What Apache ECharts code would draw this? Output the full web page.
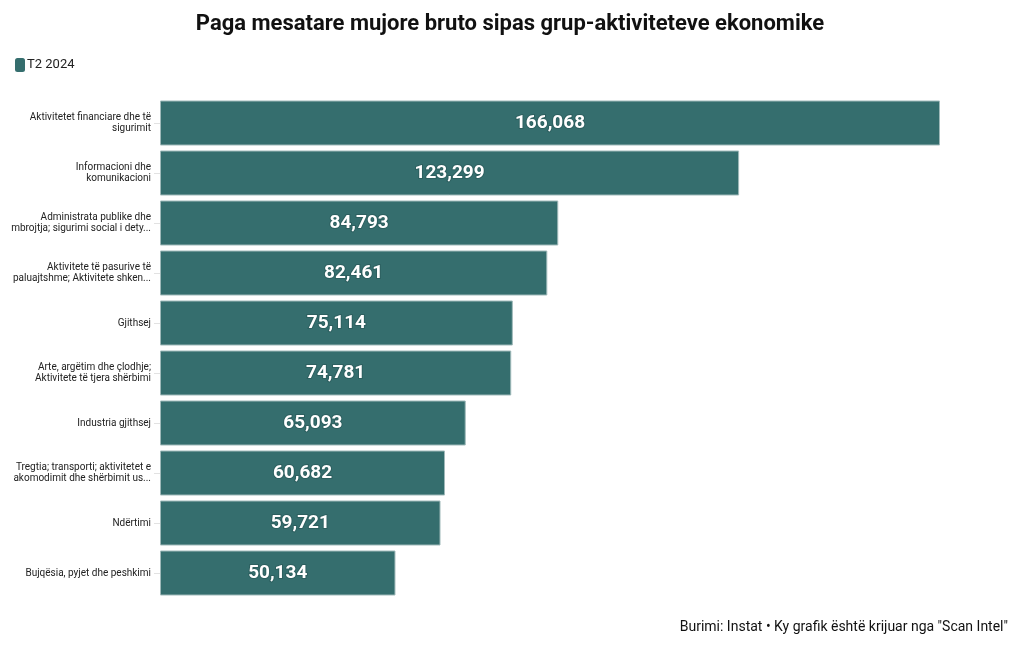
<!DOCTYPE html>
<html><head><meta charset="utf-8">
<script src="https://cdn.jsdelivr.net/npm/echarts@6/dist/echarts.min.js"></script>
<style>html,body{margin:0;padding:0;background:#fff}#c{width:1020px;height:650px}</style>
</head><body><div id="c"></div>
<script>
var categories = [
  "Aktivitetet financiare dhe të\nsigurimit",
  "Informacioni dhe\nkomunikacioni",
  "Administrata publike dhe\nmbrojtja; sigurimi social i dety...",
  "Aktivitete të pasurive të\npaluajtshme; Aktivitete shken...",
  "Gjithsej",
  "Arte, argëtim dhe çlodhje;\nAktivitete të tjera shërbimi",
  "Industria gjithsej",
  "Tregtia; transporti; aktivitetet e\nakomodimit dhe shërbimit us...",
  "Ndërtimi",
  "Bujqësia, pyjet dhe peshkimi"
];
var values = [166068, 123299, 84793, 82461, 75114, 74781, 65093, 60682, 59721, 50134];
var seriesName = "T2 2024";
var titleText = "Paga mesatare mujore bruto sipas grup-aktiviteteve ekonomike";
var sourceText = "Burimi: Instat • Ky grafik është krijuar nga \"Scan Intel\"";

var FONT = "'Roboto', sans-serif";
var chart = echarts.init(document.getElementById('c'));
chart.setOption({
  backgroundColor: '#fff',
  textStyle: { fontFamily: FONT },
  title: { text: titleText, left: 'center', top: 8,
    textStyle: { fontFamily: FONT, fontSize: 22, fontWeight: 'bold', color: '#111' } },
  legend: { left: 10, top: 53, itemWidth: 10, itemHeight: 14, itemGap: 4, icon: 'roundRect',
    itemStyle: { borderWidth: 0 },
    textStyle: { fontFamily: FONT, fontSize: 13, color: '#222', padding: [0,0,0,-3] } },
  grid: { left: 160, right: 80, top: 98, bottom: 52, containLabel: false },
  xAxis: { type: 'value', min: 0, max: 166068, show: false },
  yAxis: { type: 'category', data: categories, inverse: true,
    axisLine: { show: false },
    axisTick: { show: true, alignWithLabel: true, length: 6, lineStyle: { color: '#e2e2e2' } },
    axisLabel: { fontFamily: FONT, fontSize: 10, color: '#222', margin: 9, align: 'right', lineHeight: 11 } },
  graphic: [{ type: 'text', right: 12, top: 620,
    style: { text: sourceText, fontFamily: FONT, fontSize: 14, fill: '#111' } }],
  series: [{ name: seriesName, type: 'bar', data: values, barCategoryGap: '10%',
    itemStyle: { color: '#356e6e', borderColor: '#9fb9b9', borderWidth: 1 },
    label: { show: true, position: 'inside', fontFamily: FONT, fontSize: 19, fontWeight: 'bold',
      color: '#fff', textBorderColor: '#2d5f5f', textBorderWidth: 2,
      formatter: function (p) { return p.value.toLocaleString('en-US'); } } }]
});
</script></body></html>
